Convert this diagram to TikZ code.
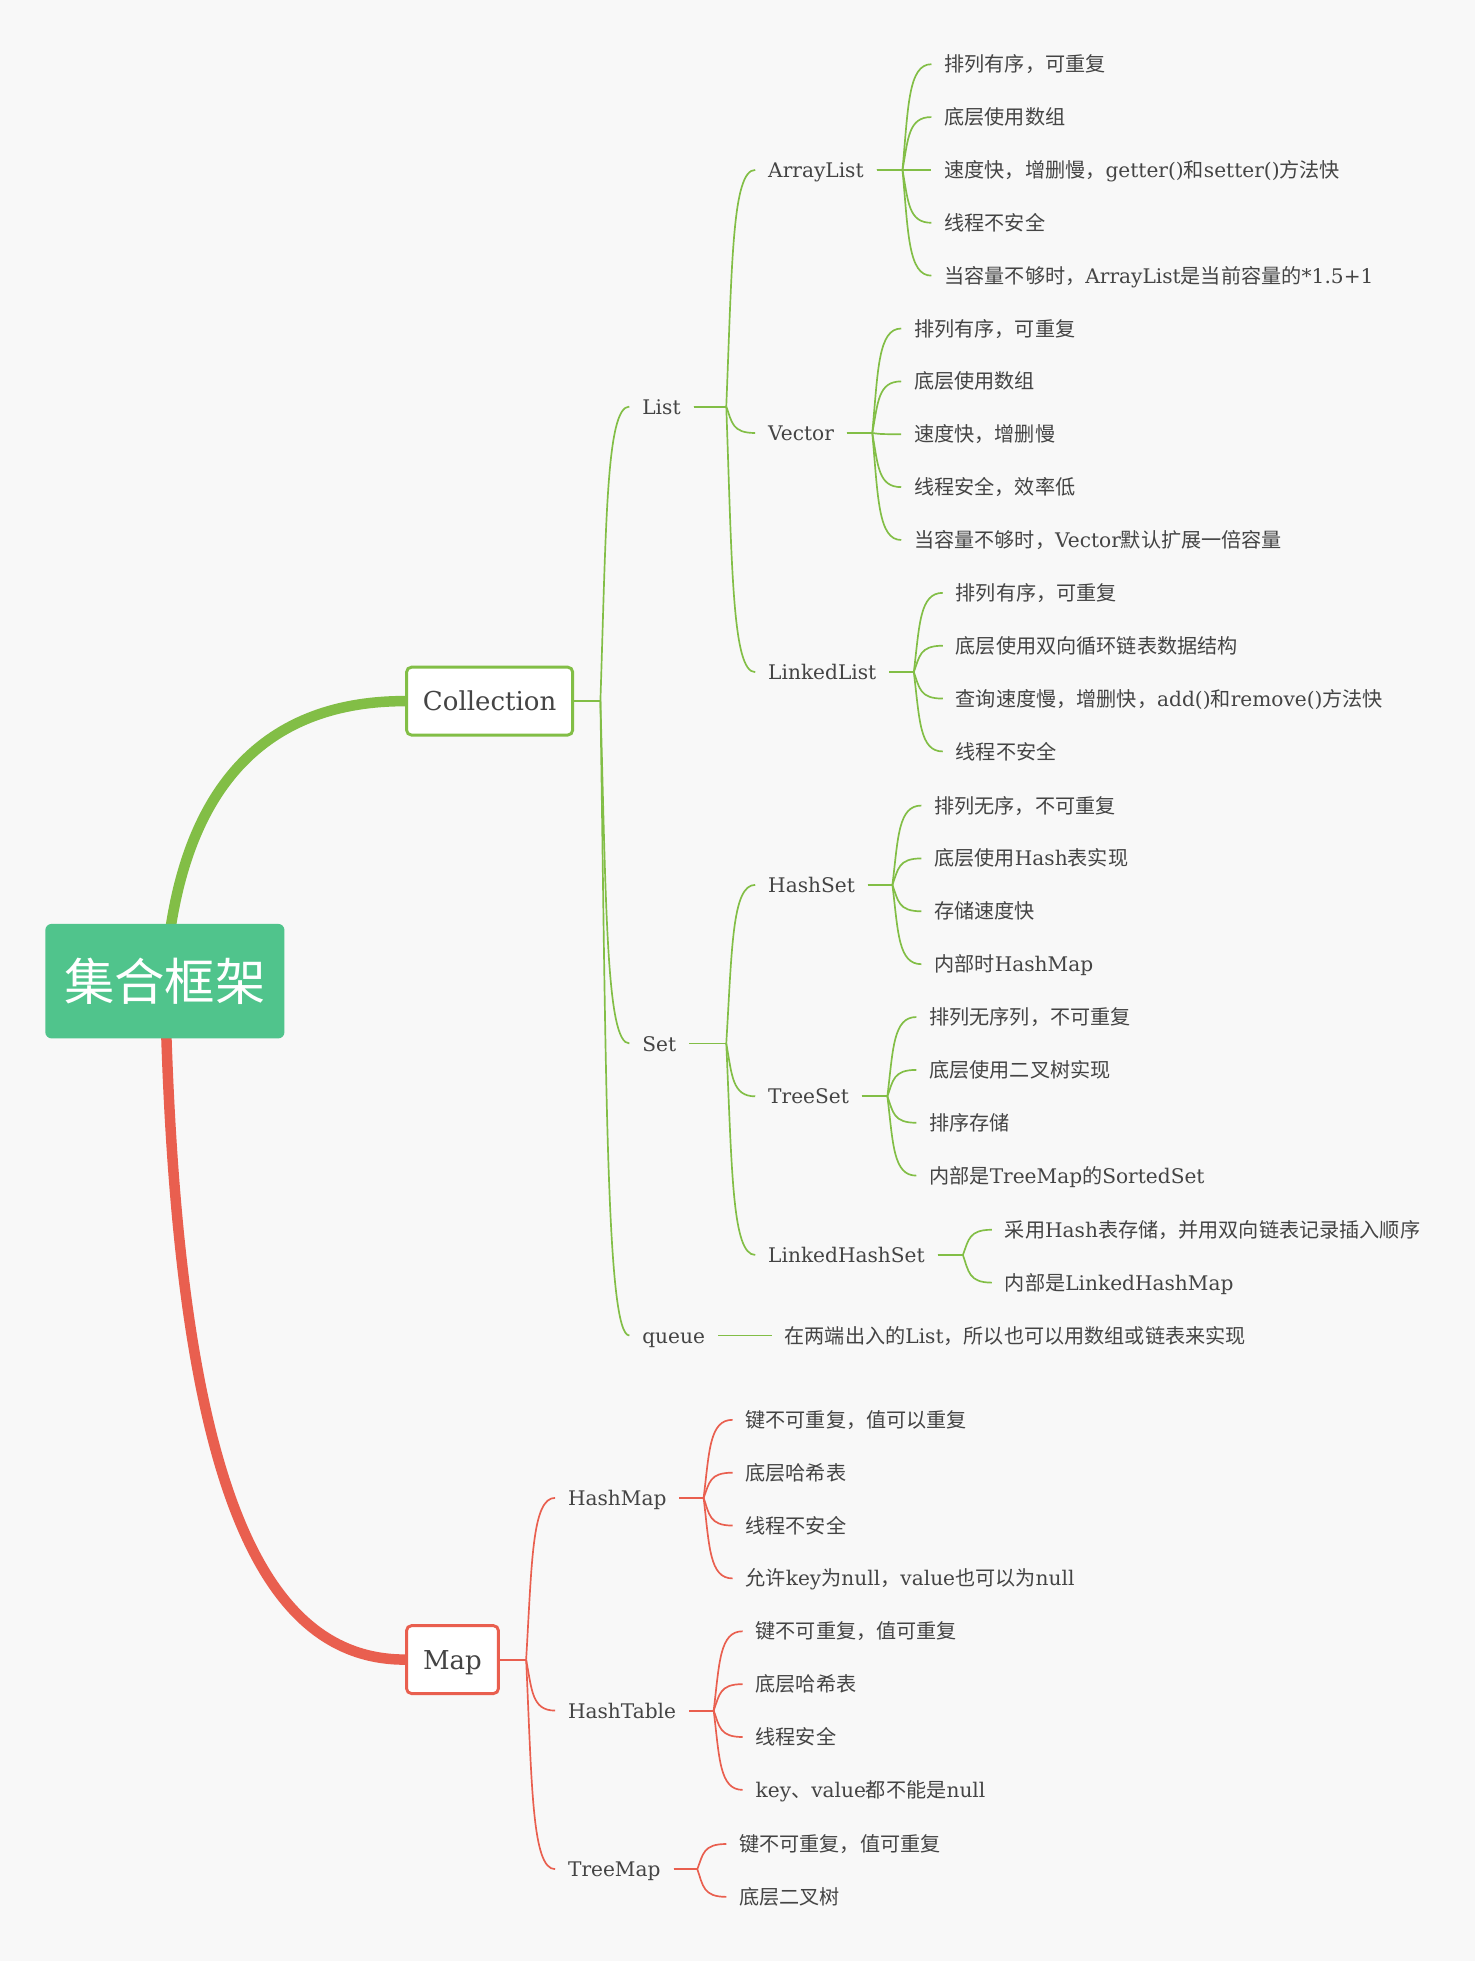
\documentclass[tikz,border=0pt]{standalone}
\usepackage{fontspec}
\setmainfont{DejaVu Serif}
\newfontfamily\cjk{Noto Sans CJK SC}
\usepackage{tikz}
\usetikzlibrary{calc}
\usetikzlibrary{backgrounds}
\definecolor{mindgreen}{HTML}{82BE46}
\definecolor{mindred}{HTML}{E95F4F}
\definecolor{rootfill}{HTML}{50C48C}
\definecolor{inkgray}{HTML}{444444}
\definecolor{paper}{HTML}{F8F8F8}
\newcommand{\zh}[1]{{\cjk #1}}
\newcommand{\forkgap}{13.8pt}
% stub from the parent, then a soft bracket curve into the child
\newcommand{\branch}[3][mindgreen]{%
  \draw[stubline,#1] let \p1=(#2.east), \p2=(#3.west) in
    (\p1) -- ({\x2-\forkgap},\y1);
  \draw[branchline,#1] let \p1=(#2.east), \p2=(#3.west),
    \n1={\x2-\forkgap}, \n2={\x2-0.8*\forkgap} in
    (\n1,\y1) .. controls (\n2,{\y1+0.6*(\y2-\y1)}) and (\n2,\y2) .. (\p2);}

\begin{document}
\begin{tikzpicture}[x=0.6pt, y=-0.6pt,
    every node/.style={text=inkgray},
    rootbox/.style={fill=rootfill, rounded corners=3pt, text=white,
      font=\cjk\fontsize{24}{28}\selectfont, minimum width=114pt,
      minimum height=54.6pt, text height=18.2pt, text depth=0pt, inner sep=0pt},
    topic/.style={line width=1.4pt, rounded corners=2.4pt, fill=white,
      font=\fontsize{12.4}{14}\selectfont, minimum height=32.4pt,
      text height=9.4pt, text depth=0pt, inner sep=0pt},
    item/.style={anchor=west, inner xsep=6pt, inner ysep=2pt,
      font=\fontsize{9.6}{11}\selectfont, text height=7.2pt, text depth=0pt},
    stubline/.style={line width=0.9pt},
    branchline/.style={line width=0.8pt},
    trunk/.style={line width=5pt}]
  \useasboundingbox (0,0) rectangle (1179,1567.5);

  % Main topics:
  \node[rootbox] (root) at (131,779.5) {集合框架};
  \node[topic, draw=mindgreen, minimum width=79.2pt] (Collection) at (389,557) {Collection};
  \node[topic, draw=mindred, minimum width=43.8pt] (Map) at (359.5,1318.5) {Map};

  % Collection side:
  \node[item] (List) at (500,323) {List};
  \node[item] (Set) at (500,829) {Set};
  \node[item] (queue) at (500,1061) {queue};

  \node[item] (ArrayList) at (600,135) {ArrayList};
  \node[item] (Vector) at (600,344) {Vector};
  \node[item] (LinkedList) at (600,534) {LinkedList};
  \node[item] (HashSet) at (600,703) {HashSet};
  \node[item] (TreeSet) at (600,871) {TreeSet};
  \node[item] (LinkedHashSet) at (600,997) {LinkedHashSet};

  % ArrayList
  \node[item] (al1) at (740,51) {\zh{排列有序，可重复}};
  \node[item] (al2) at (740,93) {\zh{底层使用数组}};
  \node[item] (al3) at (740,135) {\zh{速度快，增删慢，}getter()\zh{和}setter()\zh{方法快}};
  \node[item] (al4) at (740,177) {\zh{线程不安全}};
  \node[item] (al5) at (740,219) {\zh{当容量不够时，}ArrayList\zh{是当前容量的}*1.5+1};
  % Vector
  \node[item] (ve1) at (716,261) {\zh{排列有序，可重复}};
  \node[item] (ve2) at (716,303) {\zh{底层使用数组}};
  \node[item] (ve3) at (716,345) {\zh{速度快，增删慢}};
  \node[item] (ve4) at (716,387) {\zh{线程安全，效率低}};
  \node[item] (ve5) at (716,429) {\zh{当容量不够时，}Vector\zh{默认扩展一倍容量}};
  % LinkedList
  \node[item] (ll1) at (749,471) {\zh{排列有序，可重复}};
  \node[item] (ll2) at (749,513) {\zh{底层使用双向循环链表数据结构}};
  \node[item] (ll3) at (749,555) {\zh{查询速度慢，增删快，}add()\zh{和}remove()\zh{方法快}};
  \node[item] (ll4) at (749,597) {\zh{线程不安全}};
  % HashSet
  \node[item] (hs1) at (732,640) {\zh{排列无序，不可重复}};
  \node[item] (hs2) at (732,682) {\zh{底层使用}Hash\zh{表实现}};
  \node[item] (hs3) at (732,724) {\zh{存储速度快}};
  \node[item] (hs4) at (732,766) {\zh{内部时}HashMap};
  % TreeSet
  \node[item] (ts1) at (728,808) {\zh{排列无序列，不可重复}};
  \node[item] (ts2) at (728,850) {\zh{底层使用二叉树实现}};
  \node[item] (ts3) at (728,892) {\zh{排序存储}};
  \node[item] (ts4) at (728,934) {\zh{内部是}TreeMap\zh{的}SortedSet};
  % LinkedHashSet
  \node[item] (lhs1) at (788,977) {\zh{采用}Hash\zh{表存储，并用双向链表记录插入顺序}};
  \node[item] (lhs2) at (788,1019) {\zh{内部是}LinkedHashMap};
  % queue
  \node[item] (qu1) at (613,1061) {\zh{在两端出入的}List\zh{，所以也可以用数组或链表来实现}};

  % Map side:
  \node[item] (HashMap) at (441,1190) {HashMap};
  \node[item] (HashTable) at (441,1359) {HashTable};
  \node[item] (TreeMap) at (441,1485) {TreeMap};

  \node[item] (hm1) at (582,1128) {\zh{键不可重复，值可以重复}};
  \node[item] (hm2) at (582,1170) {\zh{底层哈希表}};
  \node[item] (hm3) at (582,1212) {\zh{线程不安全}};
  \node[item] (hm4) at (582,1254) {\zh{允许}key\zh{为}null\zh{，}value\zh{也可以为}null};
  \node[item] (ht1) at (590,1296) {\zh{键不可重复，值可重复}};
  \node[item] (ht2) at (590,1338) {\zh{底层哈希表}};
  \node[item] (ht3) at (590,1380) {\zh{线程安全}};
  \node[item] (ht4) at (590,1422) {key\zh{、}value\zh{都不能是}null};
  \node[item] (tm1) at (577,1465) {\zh{键不可重复，值可重复}};
  \node[item] (tm2) at (577,1507) {\zh{底层二叉树}};

  % Connectors, green:
  \foreach \c in {List,Set,queue} {\branch{Collection}{\c}}
  \foreach \c in {ArrayList,Vector,LinkedList} {\branch{List}{\c}}
  \foreach \c in {HashSet,TreeSet,LinkedHashSet} {\branch{Set}{\c}}
  \foreach \i in {1,...,5} {\branch{ArrayList}{al\i} \branch{Vector}{ve\i}}
  \foreach \i in {1,...,4} {\branch{LinkedList}{ll\i} \branch{HashSet}{hs\i}
    \branch{TreeSet}{ts\i}}
  \foreach \i in {1,2} {\branch{LinkedHashSet}{lhs\i}}
  \branch{queue}{qu1}
  % Connectors, red:
  \foreach \c in {HashMap,HashTable,TreeMap} {\branch[mindred]{Map}{\c}}
  \foreach \i in {1,...,4} {\branch[mindred]{HashMap}{hm\i}
    \branch[mindred]{HashTable}{ht\i}}
  \foreach \i in {1,2} {\branch[mindred]{TreeMap}{tm\i}}

  \begin{scope}[on background layer]
    % The page:
    \fill[white] (0,0) rectangle (1179,1567.5);
    \fill[paper] (0,0) rectangle (1172,1558);
    % Trunks from the root:
    \draw[trunk, mindgreen] (root.center) .. controls +(9,-140) and +(-123,0) .. (Collection.west);
    \draw[trunk, mindred] (root.center) .. controls +(8,390) and +(-118,0) .. (Map.west);
  \end{scope}
\end{tikzpicture}
\end{document}
